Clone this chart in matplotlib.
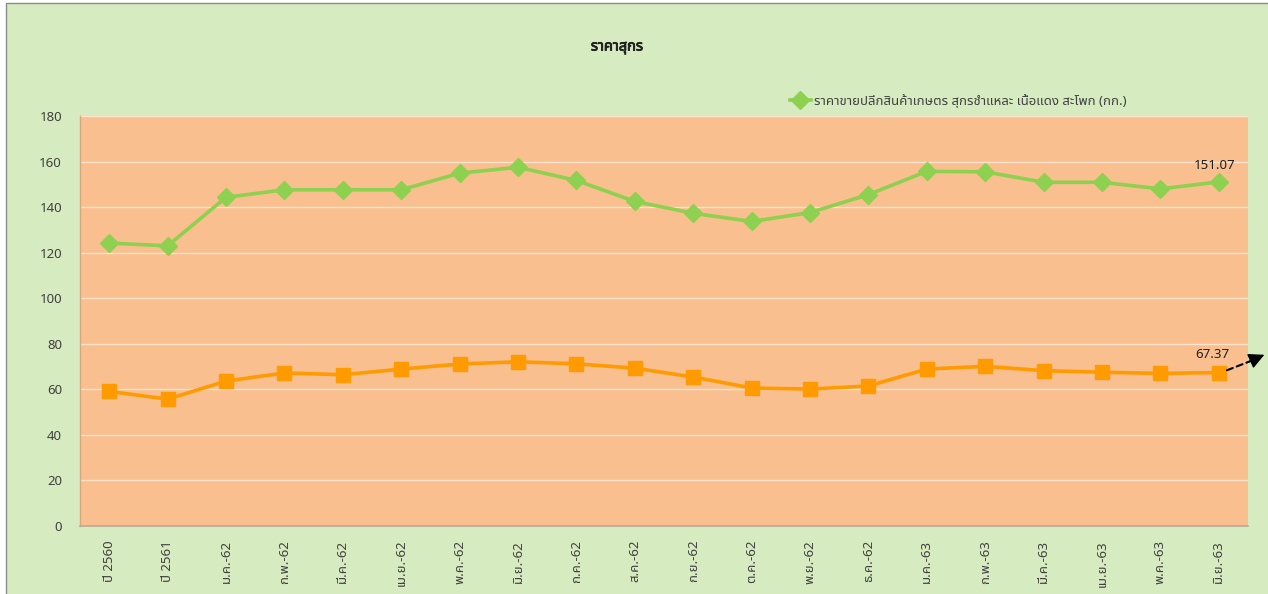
import matplotlib
matplotlib.use("Agg")
import matplotlib.pyplot as plt
from matplotlib import font_manager as fm
from matplotlib.patches import Rectangle
import matplotlib.patheffects as pe

# ---------------- data ----------------
categories = ["ปี 2560", "ปี 2561", "ม.ค.-62", "ก.พ.-62", "มี.ค.-62", "เม.ย.-62",
              "พ.ค.-62", "มิ.ย.-62", "ก.ค.-62", "ส.ค.-62", "ก.ย.-62", "ต.ค.-62",
              "พ.ย.-62", "ธ.ค.-62", "ม.ค.-63", "ก.พ.-63", "มี.ค.-63", "เม.ย.-63",
              "พ.ค.-63", "มิ.ย.-63"]
retail_price = [124.2, 123.0, 144.3, 147.6, 147.6, 147.6, 154.9, 157.5, 151.7, 142.5,
                137.3, 133.7, 137.6, 145.5, 155.7, 155.5, 150.9, 150.9, 148.0, 151.07]
farm_price = [59.1, 55.7, 63.6, 67.2, 66.4, 68.9, 71.1, 72.1, 71.2, 69.3,
              65.4, 60.6, 60.1, 61.5, 68.9, 70.1, 68.2, 67.5, 67.0, 67.37]
title = "ราคาสุกร"
retail_label = "ราคาขายปลีกสินค้าเกษตร สุกรชำแหละ เนื้อแดง สะโพก (กก.)"
yticks = [0, 20, 40, 60, 80, 100, 120, 140, 160, 180]

# ---------------- fonts: find a family with Thai glyphs ----------------
thai_families = []
try:
    from fontTools.ttLib import TTFont
    for f in fm.fontManager.ttflist:
        try:
            tt = TTFont(f.fname, fontNumber=0, lazy=True)
            cmap = tt.getBestCmap()
            if cmap and 0x0E01 in cmap and f.name not in thai_families:
                thai_families.append(f.name)
        except Exception:
            pass
except Exception:
    pass
preferred = ["Tahoma", "Noto Sans Thai", "Noto Sans Thai UI", "Leelawadee UI", "Loma",
             "Garuda", "Sarabun", "Kinnari", "Norasi", "Umpush", "Waree", "Tlwg Typo"]
thai_families.sort(key=lambda n: preferred.index(n) if n in preferred else len(preferred))
families = thai_families[:1] + ["DejaVu Sans"]
plt.rcParams["font.family"] = families

# ---------------- figure ----------------
W, H = 1268, 594
fig = plt.figure(figsize=(W / 100, H / 100), dpi=100, facecolor="white")

bg = Rectangle((6 / W, -0.01), 1.0, 1.01 - 3 / H, transform=fig.transFigure,
               facecolor="#D6EBC0", edgecolor="#8C8C8C", linewidth=1.0, zorder=-10)
fig.patches.append(bg)

ax = fig.add_axes([80 / W, 1 - 526 / H, (1248 - 80) / W, (526 - 116) / H])
ax.set_zorder(1)
ax.set_facecolor("#F9BF8F")

x = list(range(len(categories)))
green = "#8ED04F"
orange = "#FF9B00"

ax.plot(x, retail_price, color=green, linewidth=2.6, marker="D", markersize=9,
        markerfacecolor=green, markeredgecolor=green, zorder=3, label=retail_label)
ax.plot(x, farm_price, color=orange, linewidth=2.6, marker="s", markersize=10,
        markerfacecolor=orange, markeredgecolor=orange, zorder=3)

ax.set_xlim(-0.5, len(categories) - 0.5)
ax.set_ylim(0, 180)
ax.set_yticks(yticks)
ax.set_xticks(x)
ax.set_xticklabels(categories, rotation=90, fontsize=9.5, color="#404040")
ax.tick_params(axis="y", length=0, pad=13, labelsize=9.5, labelcolor="#404040")
ax.tick_params(axis="x", length=0, pad=10)

ax.grid(axis="y", color="#FCE4CE", linewidth=1.0)
ax.grid(axis="x", visible=False)
ax.set_axisbelow(True)
for side in ["top", "right"]:
    ax.spines[side].set_visible(False)
ax.spines["left"].set_color("#D7A780")
ax.spines["bottom"].set_color("#B8A898")
ax.spines["left"].set_linewidth(1.0)
ax.spines["bottom"].set_linewidth(1.2)

# data labels on the last points
last = len(categories) - 1
ax.annotate(f"{retail_price[-1]:.2f}", (last, retail_price[-1]), xytext=(-3, 7),
            textcoords="offset points", ha="center", va="bottom", fontsize=9.5,
            color="#202020")
ax.annotate(f"{farm_price[-1]:.2f}", (last, farm_price[-1]), xytext=(-5, 8),
            textcoords="offset points", ha="center", va="bottom", fontsize=9.5,
            color="#202020")

# dashed arrow pointing out of the plot
ax.annotate("", xy=(last + 0.56, farm_price[-1] + 5.2), xytext=(last + 0.14, farm_price[-1] + 1.0),
            arrowprops=dict(arrowstyle="-", color="black", linestyle=(0, (3, 2)), linewidth=1.5,
                            shrinkA=0, shrinkB=0), annotation_clip=False)
ax.annotate("", xy=(last + 0.78, farm_price[-1] + 7.8), xytext=(last + 0.50, farm_price[-1] + 4.6),
            arrowprops=dict(arrowstyle="-|>", color="black", linewidth=1.0,
                            mutation_scale=24, shrinkA=0, shrinkB=0), annotation_clip=False)

fig.text(617 / W, 1 - 47 / H, title, ha="center", va="center", fontsize=10.5,
         fontweight="bold", color="#202020",
         path_effects=[pe.withStroke(linewidth=0.6, foreground="#202020")])

leg = fig.legend(loc="center", bbox_to_anchor=(958 / W, 1 - 101 / H), frameon=False,
                 fontsize=9.5, handlelength=1.6, handletextpad=0.2, borderpad=0.1)
for t in leg.get_texts():
    t.set_color("#404040")

fig.savefig("out.png", dpi=100, facecolor="white")
